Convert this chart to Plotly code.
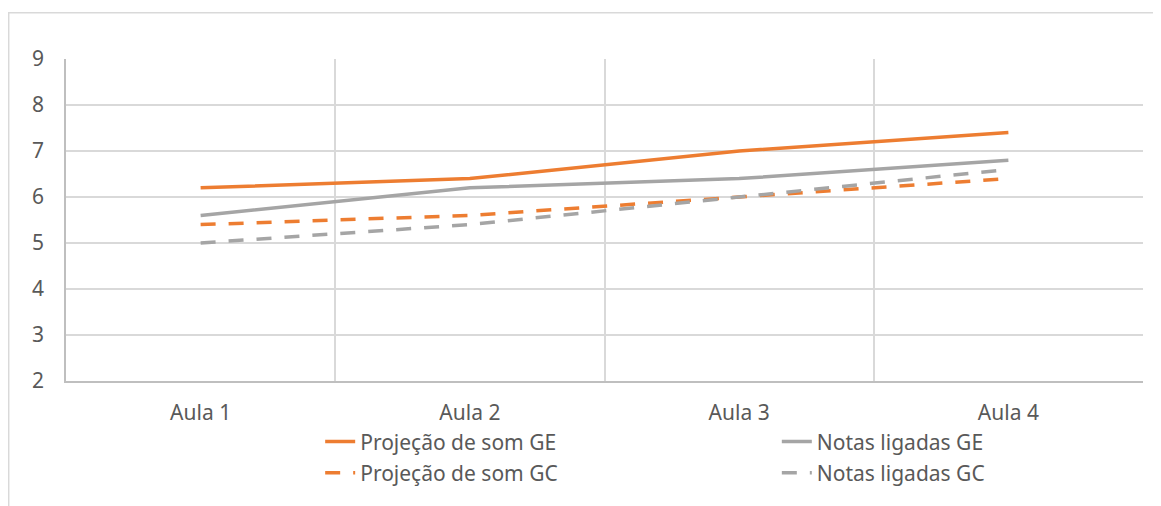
import plotly.graph_objects as go

aulas = ['Aula 1', 'Aula 2', 'Aula 3', 'Aula 4']
projecao_ge = [6.2, 6.4, 7.0, 7.4]
notas_ge = [5.6, 6.2, 6.4, 6.8]
projecao_gc = [5.4, 5.6, 6.0, 6.4]
notas_gc = [5.0, 5.4, 6.0, 6.6]

orange = '#ED7D31'
gray = '#A5A5A5'
txt = '#595959'
font = 'Noto Sans'
dash = '15px,13px'

fig = go.Figure()
fig.add_trace(go.Scatter(x=aulas, y=projecao_ge, name='Projeção de som GE', mode='lines',
                         line=dict(color=orange, width=3.5), legend='legend'))
fig.add_trace(go.Scatter(x=aulas, y=notas_ge, name='Notas ligadas GE', mode='lines',
                         line=dict(color=gray, width=3.5), legend='legend2'))
fig.add_trace(go.Scatter(x=aulas, y=projecao_gc, name='Projeção de som GC', mode='lines',
                         line=dict(color=orange, width=3.5, dash=dash), legend='legend3'))
fig.add_trace(go.Scatter(x=aulas, y=notas_gc, name='Notas ligadas GC', mode='lines',
                         line=dict(color=gray, width=3.5, dash=dash), legend='legend4'))

# one legend per entry so the 2x2 grid sits where Excel put it
leg = dict(orientation='h', xanchor='left', yanchor='middle', bgcolor='rgba(0,0,0,0)',
           font=dict(family=font, size=21, color=txt), itemclick=False, itemdoubleclick=False)
fig.update_layout(
    width=1161, height=506,
    margin=dict(l=58, r=26, t=51, b=133),
    paper_bgcolor='white', plot_bgcolor='white',
    font=dict(family=font, size=21, color=txt),
    showlegend=True,
    legend=dict(leg, x=0.236, y=-0.189),
    legend2=dict(leg, x=0.66, y=-0.189),
    legend3=dict(leg, x=0.236, y=-0.286),
    legend4=dict(leg, x=0.66, y=-0.286),
    xaxis=dict(type='category', tickson='boundaries', showgrid=True, gridcolor='#D9D9D9', gridwidth=1.5,
               showline=True, linecolor='#BFBFBF', linewidth=1.5, ticks='', ticklabelstandoff=12,
               range=[-0.5, 3.5], fixedrange=True),
    yaxis=dict(range=[2, 9], dtick=1, showgrid=True, gridcolor='#D9D9D9', gridwidth=1.5,
               showline=True, linecolor='#BFBFBF', linewidth=1.5, ticks='', zeroline=False,
               ticklabelstandoff=16, fixedrange=True),
    # chart area border
    shapes=[dict(type='rect', xref='paper', yref='paper', x0=-0.0532, x1=1.2, y0=-0.6, y1=1.144,
                 line=dict(color='#D9D9D9', width=1.5), layer='below')],
)

fig.write_html('out.html')
